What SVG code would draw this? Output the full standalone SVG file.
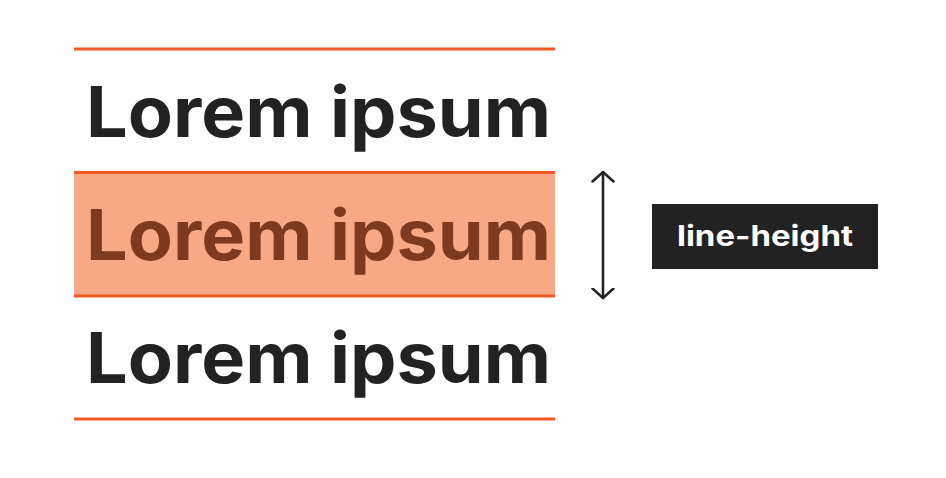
<svg xmlns="http://www.w3.org/2000/svg" width="946" height="478" viewBox="0 0 946 478">
  <style>
    .rule { stroke: #EE5A24; stroke-width: 3; }
    .sample { font-family: Inter, "Noto Sans", "Liberation Sans", sans-serif; font-weight: 700; font-size: 70px; }
    .dark { fill: #222222; }
    .label { font-family: Inter, "Noto Sans", "Liberation Sans", sans-serif; font-weight: 700; font-size: 28px; fill: #ffffff; }
    .conn { stroke: #222222; stroke-width: 2.5; fill: none; stroke-linecap: round; stroke-linejoin: round; }
  </style>
  <defs>
    <marker id="chev" viewBox="0 0 12 24" refX="10.5" refY="12" markerWidth="12" markerHeight="24" markerUnits="userSpaceOnUse" orient="auto-start-reverse">
      <path d="M1 1.5 L10.5 12 L1 22.5" fill="none" stroke="#222222" stroke-width="2.5" stroke-linecap="round" stroke-linejoin="round"/>
    </marker>
  </defs>
  <rect width="946" height="478" fill="#ffffff"/>

  <g id="row-top">
    <line class="rule" x1="74" y1="49" x2="555" y2="49"/>
    <text class="sample dark" x="86" y="137" textLength="465" lengthAdjust="spacingAndGlyphs">Lorem ipsum</text>
  </g>

  <g id="row-highlight">
    <rect x="74" y="172" width="481" height="124" fill="#F7A985"/>
    <line class="rule" x1="74" y1="172.5" x2="555" y2="172.5"/>
    <line class="rule" x1="74" y1="296" x2="555" y2="296"/>
    <text class="sample" fill="#7E3A1E" x="86" y="260" textLength="465" lengthAdjust="spacingAndGlyphs">Lorem ipsum</text>
  </g>

  <g id="row-bottom">
    <text class="sample dark" x="86" y="383" textLength="465" lengthAdjust="spacingAndGlyphs">Lorem ipsum</text>
    <line class="rule" x1="74" y1="419" x2="555" y2="419"/>
  </g>

  <g id="label-line-height">
    <rect x="652" y="204" width="226" height="65" fill="#222222"/>
    <text class="label" x="765" y="246" text-anchor="middle" textLength="176" lengthAdjust="spacingAndGlyphs">line-height</text>
  </g>

  <g id="connectors">
    <line class="conn" x1="603" y1="172" x2="603" y2="298" marker-start="url(#chev)" marker-end="url(#chev)"/>
  </g>
</svg>
